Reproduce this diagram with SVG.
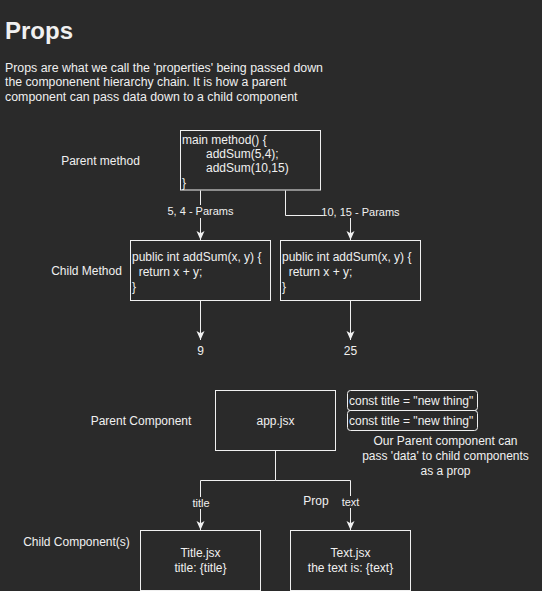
<svg xmlns="http://www.w3.org/2000/svg" width="542" height="591" viewBox="0 0 542 591">
  <style>
    text { font-family: "Liberation Sans", Arial, Helvetica, sans-serif; fill: #f0f0f0; font-size: 12px; }
    .c { text-anchor: middle; }
    .lbl { font-size: 11px; text-anchor: middle; }
    .box { fill: none; stroke: #f0f0f0; stroke-width: 1; }
    .edge { fill: none; stroke: #f0f0f0; stroke-width: 1; }
    .lblbg { fill: #2a2a2a; }
  </style>
  <defs>
    <marker id="arrow" markerUnits="userSpaceOnUse" markerWidth="9" markerHeight="9" viewBox="0 0 9 8" refX="9" refY="4" orient="auto">
      <path d="M0,0 L9,4 L0,8 L2.3,4 Z" fill="#f0f0f0"/>
    </marker>
  </defs>
  <rect width="542" height="591" fill="#2a2a2a"/>

  <g id="heading">
    <text x="5" y="39" style="font-size:24px;font-weight:bold">Props</text>
    <text x="5" y="72" textLength="318" lengthAdjust="spacingAndGlyphs">Props are what we call the 'properties' being passed down</text>
    <text x="5" y="86" textLength="281.5" lengthAdjust="spacingAndGlyphs">the componenent hierarchy chain. It is how a parent</text>
    <text x="5" y="100.5" textLength="292.5" lengthAdjust="spacingAndGlyphs">component can pass data down to a child component</text>
  </g>

  <g id="connectors">
    <path class="edge" d="M200.5,190.5 V240" marker-end="url(#arrow)"/>
    <path class="edge" d="M285.5,190.5 V215.5 H350.5 V240" marker-end="url(#arrow)"/>
    <path class="edge" d="M200.5,300.5 V340" marker-end="url(#arrow)"/>
    <path class="edge" d="M350.5,300.5 V340" marker-end="url(#arrow)"/>
    <path class="edge" d="M275.5,450.5 V480.5 H200.5 V530" marker-end="url(#arrow)"/>
    <path class="edge" d="M275.5,480.5 H350.5 V530" marker-end="url(#arrow)"/>
    <rect class="lblbg" x="168" y="205" width="65" height="13"/>
    <text class="lbl" x="200.5" y="215">5, 4 - Params</text>
    <rect class="lblbg" x="323" y="205" width="76" height="13"/>
    <text class="lbl" x="360.5" y="215.5">10, 15 - Params</text>
    <rect class="lblbg" x="191" y="497" width="20" height="12"/>
    <text class="lbl" x="201" y="507">title</text>
    <rect class="lblbg" x="340" y="496" width="21" height="12"/>
    <text class="lbl" x="350.5" y="506">text</text>
  </g>

  <g id="label-parent-method"><text class="c" x="100.5" y="165">Parent method</text></g>
  <g id="main-method">
    <rect class="box" x="180.5" y="130.5" width="140" height="59.5"/>
    <text x="182" y="143.5">main method() {</text>
    <text x="206" y="157.5">addSum(5,4);</text>
    <text x="206" y="172">addSum(10,15)</text>
    <text x="182" y="186.5">}</text>
  </g>

  <g id="label-child-method"><text class="c" x="86.5" y="275">Child Method</text></g>
  <g id="child-left">
    <rect class="box" x="130.5" y="240.5" width="140" height="60"/>
    <text x="132" y="261">public int addSum(x, y) {</text>
    <text x="132" y="276" xml:space="preserve">  return x + y;</text>
    <text x="132" y="290.5">}</text>
  </g>
  <g id="child-right">
    <rect class="box" x="280.5" y="240.5" width="140" height="60"/>
    <text x="282" y="261">public int addSum(x, y) {</text>
    <text x="282" y="276" xml:space="preserve">  return x + y;</text>
    <text x="282" y="290.5">}</text>
  </g>
  <g id="result-9"><text class="c" x="200.5" y="355">9</text></g>
  <g id="result-25"><text class="c" x="350.5" y="355">25</text></g>

  <g id="label-parent-component"><text class="c" x="141" y="425">Parent Component</text></g>
  <g id="app">
    <rect class="box" x="215.5" y="390.5" width="120" height="60"/>
    <text class="c" x="275.5" y="425">app.jsx</text>
  </g>
  <g id="const-1">
    <rect class="box" x="347.5" y="390.5" width="130" height="20" rx="3"/>
    <text x="349" y="404.5">const title = "new thing"</text>
  </g>
  <g id="const-2">
    <rect class="box" x="347.5" y="410.5" width="130" height="20" rx="3"/>
    <text x="349" y="424.5">const title = "new thing"</text>
  </g>
  <g id="note">
    <text class="c" x="445.5" y="445">Our Parent component can</text>
    <text class="c" x="445.5" y="460">pass 'data' to child components</text>
    <text class="c" x="445.5" y="474.5">as a prop</text>
  </g>
  <g id="label-prop"><text class="c" x="316" y="505">Prop</text></g>

  <g id="label-child-components"><text class="c" x="76.5" y="545.5">Child Component(s)</text></g>
  <g id="title-jsx">
    <rect class="box" x="140.5" y="530.5" width="120" height="60"/>
    <text class="c" x="200.5" y="557">Title.jsx</text>
    <text class="c" x="200.5" y="572">title: {title}</text>
  </g>
  <g id="text-jsx">
    <rect class="box" x="290.5" y="530.5" width="120" height="60"/>
    <text class="c" x="350.5" y="557">Text.jsx</text>
    <text class="c" x="350.5" y="572">the text is: {text}</text>
  </g>
</svg>
